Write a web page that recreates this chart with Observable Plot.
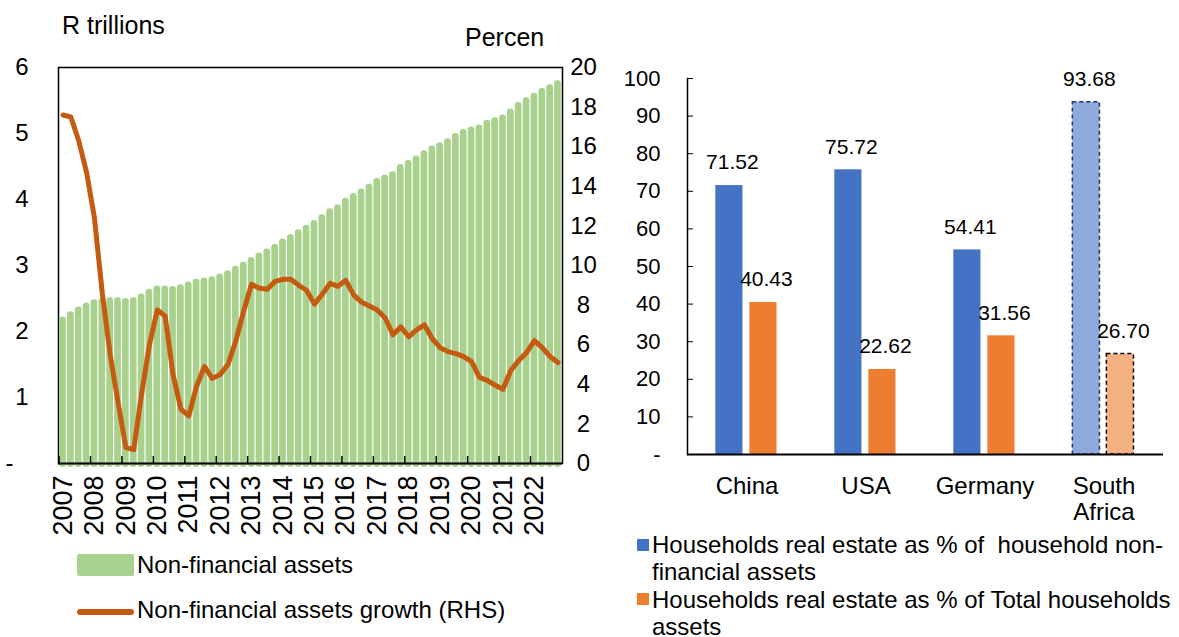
<!DOCTYPE html>
<html><head><meta charset="utf-8">
<script src="https://cdn.jsdelivr.net/npm/d3@7"></script>
<script src="https://cdn.jsdelivr.net/npm/@observablehq/plot@0.6"></script>
<style>
body{margin:0;background:#fff;}
#wrap{position:relative;width:1179px;height:637px;overflow:hidden;font-family:"Liberation Sans",Arial,sans-serif;color:#000;background:#fff;}
.abs{position:absolute;white-space:pre;line-height:1;}
</style></head><body><div id="wrap">
<div id="left" style="position:absolute;left:0;top:0"></div>
<div id="right" style="position:absolute;left:600px;top:0"></div>
<div class="abs" style="left:62px;top:13px;font-size:25px">R trillions</div>
<div class="abs" style="left:465px;top:25px;font-size:25px">Percen</div>
<div class="abs" style="left:77px;top:554px;width:57px;height:22px;background:#A9D18E;border-radius:2px"></div>
<div class="abs" style="left:137px;top:553px;font-size:24px">Non-financial assets</div>
<div class="abs" style="left:77px;top:609px;width:57px;height:6px;background:#C55A11;border-radius:3px"></div>
<div class="abs" style="left:137px;top:598px;font-size:24px">Non-financial assets growth (RHS)</div>
<div class="abs" style="left:637px;top:539px;width:12px;height:12px;background:#4472C4"></div>
<div class="abs" style="left:652px;top:531px;font-size:24px;line-height:27px">Households real estate as % of  household non-
financial assets</div>
<div class="abs" style="left:637px;top:593px;width:12px;height:12px;background:#ED7D31"></div>
<div class="abs" style="left:652px;top:586px;font-size:24px;line-height:27px">Households real estate as % of Total households
assets</div>
</div>
<script>
// ---- Data: left chart (quarterly, 2007Q1 - 2022Q4) ----
const years = [2007,2008,2009,2010,2011,2012,2013,2014,2015,2016,2017,2018,2019,2020,2021,2022];
const quarterNames = ["Q1","Q2","Q3","Q4"];
const nonFinancialAssets = [
  2.22,2.30,2.37,2.43, 2.48,2.50,2.51,2.51, 2.50,2.51,2.57,2.64, 2.69,2.69,2.68,2.71,
  2.75,2.79,2.81,2.83, 2.87,2.92,2.99,3.05, 3.12,3.19,3.25,3.32, 3.40,3.47,3.54,3.61,
  3.68,3.77,3.86,3.92, 4.02,4.09,4.16,4.23, 4.32,4.37,4.42,4.53, 4.59,4.66,4.74,4.81,
  4.86,4.92,5.00,5.06, 5.10,5.13,5.20,5.24, 5.28,5.37,5.47,5.54, 5.61,5.68,5.74,5.80
];
const assetsGrowth = [
  17.6,17.5,16.3,14.7, 12.4,8.6,5.5,3.1, 0.8,0.7,3.5,6.0, 7.75,7.45,4.5,2.75,
  2.4,3.9,4.9,4.3, 4.5,5.0,6.2,7.7, 9.05,8.85,8.8,9.2, 9.3,9.3,9.0,8.75,
  8.05,8.55,9.1,8.95, 9.25,8.5,8.15,7.95, 7.75,7.35,6.5,6.9, 6.4,6.75,7.0,6.3,
  5.85,5.65,5.55,5.4, 5.15,4.35,4.2,3.95, 3.75,4.7,5.2,5.6, 6.2,5.85,5.4,5.1
];
const leftTicks = [0,1,2,3,4,5,6];
const rightTicks = [0,2,4,6,8,10,12,14,16,18,20];

// ---- Data: right chart ----
const countries = ["China","USA","Germany","South Africa"];
const shareOfNonFinancial = [71.52,75.72,54.41,93.68];
const shareOfTotal = [40.43,22.62,31.56,26.70];
const barTicks = [0,10,20,30,40,50,60,70,80,90,100];

const font = '"Liberation Sans", Arial, sans-serif';

// ---------- Left chart ----------
const quarters = years.flatMap(y => quarterNames.map(q => `${y} ${q}`));
const rows = quarters.map((q, i) => ({q, assets: nonFinancialAssets[i], growth: assetsGrowth[i]}));
const yearStarts = years.map(y => `${y} Q1`);
const growthToLeft = leftTicks[leftTicks.length-1] / rightTicks[rightTicks.length-1];

const W1 = 620, H1 = 545, ML1 = 58, MR1 = 58, MT1 = 67, MB1 = 82;
const pad = 0.15;
const step = (W1 - ML1 - MR1) / (quarters.length - pad + 2 * pad);

const leftPlot = Plot.plot({
  width: W1, height: H1,
  marginLeft: ML1, marginRight: MR1, marginTop: MT1, marginBottom: MB1,
  style: {fontFamily: font, fontSize: "24px", color: "#000", background: "transparent", overflow: "visible"},
  x: {type: "band", domain: quarters, padding: pad, axis: null},
  y: {domain: [0, 6], axis: null},
  marks: [
    Plot.frame({stroke: "#000", strokeWidth: 1.5}),
    Plot.barY(rows, {x: "q", y: "assets", fill: "#A9D18E", rx: 3, insetBottom: -4}),
    Plot.line(rows, {x: "q", y: d => d.growth * growthToLeft, stroke: "#C55A11", strokeWidth: 5, strokeLinejoin: "round"}),
    Plot.ruleY([0], {stroke: "#000", strokeWidth: 2}),
    Plot.axisX({ticks: yearStarts, tickSize: 7, dy: -7, dx: -step / 2, tickFormat: () => "", label: null, stroke: "#000", strokeWidth: 1.5}),
    Plot.axisX({ticks: yearStarts, tickSize: 0, tickRotate: -90, tickPadding: 12, tickFormat: k => k.slice(0, 4), label: null, fontSize: 27}),
    Plot.axisY({ticks: leftTicks.filter(t => t > 0), tickSize: 0, tickPadding: 30, tickFormat: v => String(v), label: null, fontSize: 24}),
    Plot.axisY({ticks: [0], tickSize: 0, tickPadding: 45, tickFormat: () => "-", label: null, fontSize: 24}),
    Plot.axisY({anchor: "right", ticks: rightTicks.map(t => t * growthToLeft), tickSize: 0, tickPadding: 21, label: null,
      textAnchor: "middle", tickFormat: v => String(Math.round(v / growthToLeft)), fontSize: 24})
  ]
});
document.getElementById("left").appendChild(leftPlot);

// ---------- Right chart ----------
const W2 = 579, H2 = 530, ML2 = 87, MR2 = 16, MT2 = 78, MB2 = 76;
const bw = (W2 - ML2 - MR2) / countries.length;
const bars = countries.map((c, i) => ({country: c, nonfin: shareOfNonFinancial[i], total: shareOfTotal[i]}));
const isSA = d => d.country === "South Africa";
const blueL = 0.238, blueR = 0.466, orL = 0.524, orR = 0.752;

const rightPlot = Plot.plot({
  width: W2, height: H2,
  marginLeft: ML2, marginRight: MR2, marginTop: MT2, marginBottom: MB2,
  style: {fontFamily: font, fontSize: "22px", color: "#000", background: "transparent", overflow: "visible"},
  color: {type: "identity"},
  x: {type: "band", domain: countries, padding: 0, axis: null},
  y: {domain: [0, 100], axis: null},
  marks: [
    Plot.barY(bars, {x: "country", y: "nonfin",
      fill: d => isSA(d) ? "#8FAADC" : "#4472C4",
      stroke: d => isSA(d) ? "#1F3864" : "none", strokeWidth: 1.5, strokeDasharray: "4,3",
      insetLeft: bw * blueL, insetRight: bw * (1 - blueR)}),
    Plot.barY(bars, {x: "country", y: "total",
      fill: d => isSA(d) ? "#F4B183" : "#ED7D31",
      stroke: d => isSA(d) ? "#000000" : "none", strokeWidth: 1.5, strokeDasharray: "4,3",
      insetLeft: bw * orL, insetRight: bw * (1 - orR)}),
    Plot.text(bars, {x: "country", y: "nonfin", text: d => d.nonfin.toFixed(2), dy: -23,
      dx: bw * ((blueL + blueR) / 2 - 0.5) + 3, fontSize: 21, fill: "#000"}),
    Plot.text(bars, {x: "country", y: "total", text: d => d.total.toFixed(2), dy: -23,
      dx: bw * ((orL + orR) / 2 - 0.5) + 3, fontSize: 21, fill: "#000"}),
    Plot.frame({anchor: "left", stroke: "#000", strokeWidth: 1.5}),
    Plot.ruleY([0], {stroke: "#000", strokeWidth: 2}),
    Plot.axisY({ticks: barTicks, tickSize: 0, tickPadding: 27, tickFormat: v => v === 0 ? "-" : String(v), label: null, fontSize: 22}),
    Plot.axisY({ticks: barTicks, tickSize: 6, dx: 6, tickFormat: () => "", label: null, stroke: "#000"}),
    Plot.axisX({tickSize: 0, tickPadding: 20, fontSize: 24, lineHeight: 1.12, label: null, tickFormat: c => c.replace(" ", "\n")})
  ]
});
document.getElementById("right").appendChild(rightPlot);
</script></body></html>
